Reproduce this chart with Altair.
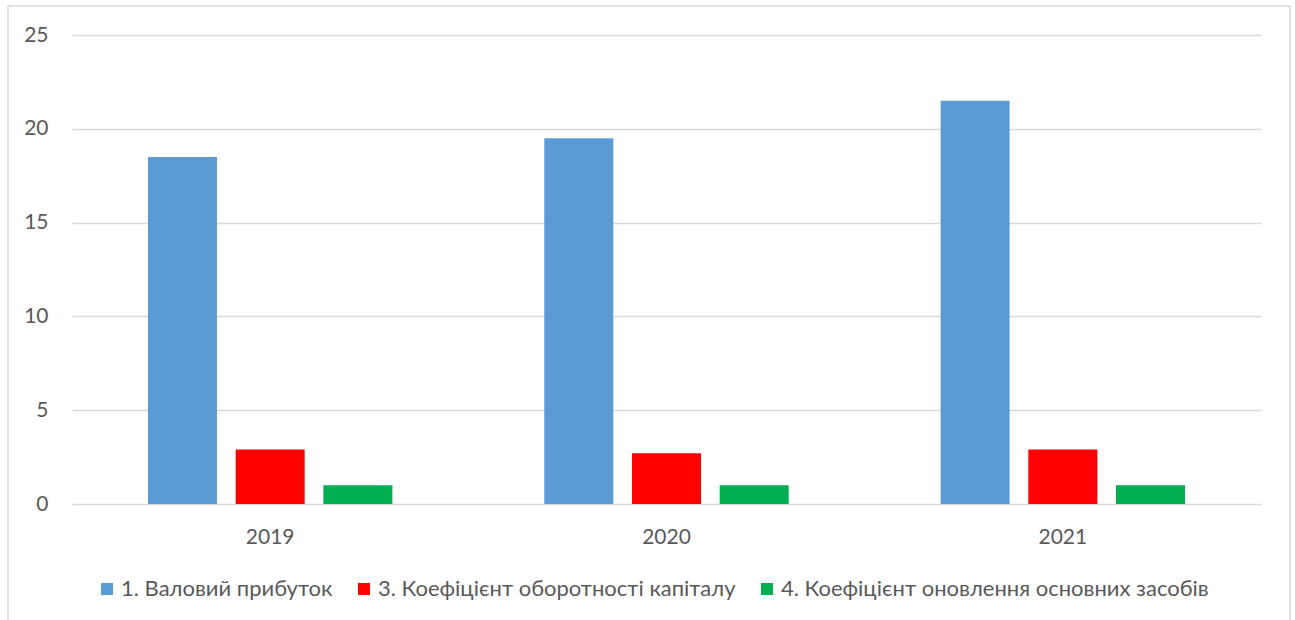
import altair as alt
import pandas as pd

years = ["2019", "2020", "2021"]
series = [
    "1. Валовий прибуток",
    "3. Коефіцієнт оборотності капіталу",
    "4. Коефіцієнт оновлення основних засобів",
]
gross_profit = [18.5, 19.5, 21.5]
capital_turnover = [2.9, 2.7, 2.9]
renewal_ratio = [1.0, 1.0, 1.0]
colors = ["#5b9bd5", "#ff0000", "#00b050"]

rows = []
for values, name in zip([gross_profit, capital_turnover, renewal_ratio], series):
    for year, v in zip(years, values):
        rows.append({"year": year, "series": name, "value": v})
df = pd.DataFrame(rows)

FONT = "Lato"
TEXT = "#595959"
GRID = "#d9d9d9"

W, H = 1189, 469
LEFT, TOP = 72, 35

bars = alt.Chart(df).mark_bar().encode(
    x=alt.X(
        "year:N",
        sort=years,
        title=None,
        scale=alt.Scale(paddingInner=0, paddingOuter=0),
        axis=alt.Axis(
            labelAngle=0,
            ticks=False,
            domain=False,
            grid=False,
            labelPadding=22,
            labelFont=FONT,
            labelFontSize=21,
            labelColor=TEXT,
        ),
    ),
    xOffset=alt.XOffset(
        "series:N",
        sort=series,
        scale=alt.Scale(paddingInner=0.213, paddingOuter=0.866),
    ),
    y=alt.Y(
        "value:Q",
        title=None,
        scale=alt.Scale(domain=[0, 25], nice=False),
        axis=alt.Axis(
            values=[0, 5, 10, 15, 20, 25],
            ticks=False,
            domain=False,
            labelPadding=24,
            labelFont=FONT,
            labelFontSize=21,
            labelColor=TEXT,
            gridColor=GRID,
            gridWidth=1.3,
        ),
    ),
    color=alt.Color(
        "series:N",
        sort=series,
        scale=alt.Scale(domain=series, range=colors),
        legend=alt.Legend(
            title=None,
            orient="none",
            direction="horizontal",
            columns=3,
            legendX=24,
            legendY=543,
            padding=0,
            symbolType="square",
            symbolSize=144,
            symbolStrokeWidth=0,
            symbolOpacity=1,
            labelFont=FONT,
            labelFontSize=22,
            labelColor=TEXT,
            labelOffset=3,
            labelLimit=0,
            columnPadding=20,
        ),
    ),
)

# outer chart frame
frame = alt.Chart(pd.DataFrame({"k": [0]})).mark_rect(
    fill=None, stroke=GRID, strokeWidth=1.5, clip=False
).encode(
    x=alt.value(8 - LEFT),
    x2=alt.value(1290 - LEFT),
    y=alt.value(6 - TOP),
    y2=alt.value(640 - TOP),
)

chart = (
    alt.layer(frame, bars)
    .properties(
        width=W,
        height=H,
        background="white",
        autosize=alt.AutoSizeParams(type="none"),
        padding={"left": LEFT, "top": TOP, "right": 1295 - LEFT - W, "bottom": 620 - TOP - H},
    )
    .configure_view(strokeWidth=0, stroke="transparent")
    .configure_axisX(grid=False)
)

chart.save("out.html", embed_options={"renderer": "svg", "actions": False})
